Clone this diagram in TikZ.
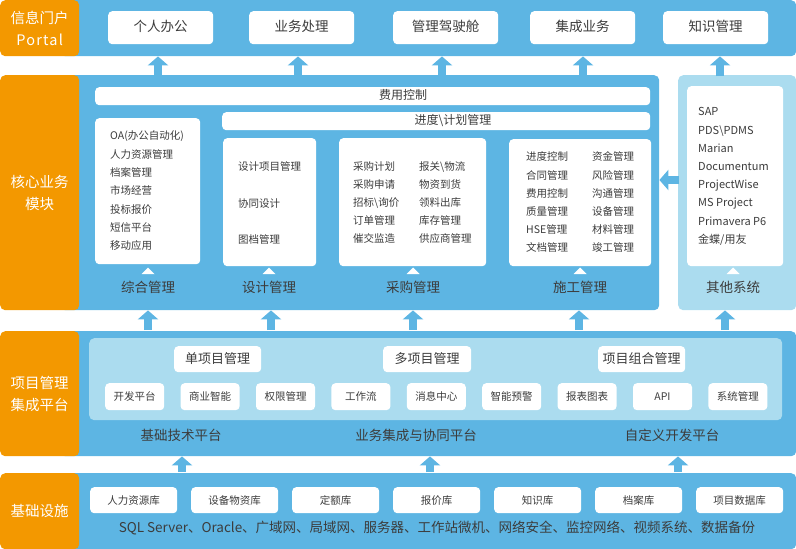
\documentclass[tikz,border=0pt]{standalone}
\usepackage{fontspec}
\setmainfont{Noto Sans CJK SC}
\usetikzlibrary{arrows.meta}
\definecolor{bandblue}{HTML}{5DB5E3}
\definecolor{lightblue}{HTML}{ABDCEF}
\definecolor{orng}{HTML}{F39800}
\definecolor{txt}{HTML}{3C3C3C}
\tikzset{
  band/.style={fill=bandblue, rounded corners=5pt, inner sep=0pt, anchor=north west},
  lband/.style={fill=lightblue, rounded corners=5pt, inner sep=0pt, anchor=north west},
  obox/.style={fill=orng, rounded corners=5pt, inner sep=0pt, anchor=north west, text=white, align=center, font=\fontsize{14.5}{22}\selectfont},
  wbox/.style={fill=white, rounded corners=4pt, inner sep=0pt, anchor=north west},
  fixh/.style={text height=0.88em, text depth=0.12em},
  ptext/.style={text=txt, font=\fontsize{13.5}{16}\selectfont, inner sep=0pt, fixh},
  item/.style={text=txt, font=\fontsize{10.5}{12}\selectfont, inner sep=0pt, anchor=west, fixh},
  oitem/.style={text=txt, font=\fontsize{11}{13}\selectfont, inner sep=0pt, anchor=west, fixh},
  btext/.style={text=txt, font=\fontsize{12}{14}\selectfont, inner sep=0pt, fixh},
  stext/.style={text=txt, font=\fontsize{10.5}{12}\selectfont, inner sep=0pt, fixh},
  lab/.style={text=txt, font=\fontsize{13.5}{16}\selectfont, inner sep=0pt, fixh},
  barrow/.style={draw=bandblue, line width=8pt, -{Triangle[width=20pt,length=9pt]}},
  wtri/.style={fill=white}
}
\begin{document}
\begin{tikzpicture}[x=1pt,y=-1pt]
\useasboundingbox (0,0) rectangle (796,549);

% ---------- bands ----------
\node[band, minimum width=736pt, minimum height=56pt] (portal) at (60,0) {};
\node[band, minimum width=599pt, minimum height=235pt] (core) at (60,75) {};
\node[lband, minimum width=118pt, minimum height=235pt] (other) at (678,75) {};
\node[band, minimum width=736pt, minimum height=125pt] (plat) at (60,331) {};
\node[band, minimum width=736pt, minimum height=76pt] (base) at (60,473) {};

% ---------- orange labels ----------
\node[obox, minimum width=79pt, minimum height=56pt] (L1) at (0,0) {信息门户\\\addfontfeature{LetterSpace=8}Portal};
\node[obox, minimum width=79pt, minimum height=235pt] (L2) at (0,75) {核心业务\\模块};
\node[obox, minimum width=79pt, minimum height=125pt] (L3) at (0,331) {项目管理\\集成平台};
\node[obox, minimum width=79pt, minimum height=76pt] (L4) at (0,473) {基础设施};

% ---------- portal boxes ----------
\node[wbox, minimum width=105pt, minimum height=33pt] (p1) at (108,11) {};
\node[wbox, minimum width=105pt, minimum height=33pt] (p2) at (249,11) {};
\node[wbox, minimum width=105pt, minimum height=33pt] (p3) at (393,11) {};
\node[wbox, minimum width=105pt, minimum height=33pt] (p4) at (530,11) {};
\node[wbox, minimum width=105pt, minimum height=33pt] (p5) at (663,11) {};
\node[ptext] (t1) at (p1.center) {个人办公};
\node[ptext] (t2) at (p2.center) {业务处理};
\node[ptext] (t3) at (p3.center) {管理驾驶舱};
\node[ptext] (t4) at (p4.center) {集成业务};
\node[ptext] (t5) at (p5.center) {知识管理};

% ---------- arrows core -> portal ----------
\coordinate (a1) at (158,0);
\coordinate (a2) at (298,0);
\coordinate (a3) at (442,0);
\coordinate (a4) at (583,0);
\coordinate (a5) at (720,0);
\draw[barrow] ([yshift=-1pt]core.north -| a1) -- (portal.south -| a1);
\draw[barrow] ([yshift=-1pt]core.north -| a2) -- (portal.south -| a2);
\draw[barrow] ([yshift=-1pt]core.north -| a3) -- (portal.south -| a3);
\draw[barrow] ([yshift=-1pt]core.north -| a4) -- (portal.south -| a4);
\draw[barrow] ([yshift=-1pt]other.north -| a5) -- (portal.south -| a5);

% ---------- core ----------
\node[wbox, minimum width=555pt, minimum height=18pt] (fee) at (95,87) {};
\node[btext] (feet) at (403,96) {费用控制};
\node[wbox, minimum width=428pt, minimum height=18pt] (prog) at (222,112) {};
\node[btext] (progt) at (453,121) {进度\textbackslash 计划管理};

\node[wbox, minimum width=105pt, minimum height=146pt] (zh) at (95,118) {};
\node[wbox, minimum width=93pt, minimum height=128pt] (sj) at (223,138) {};
\node[wbox, minimum width=147pt, minimum height=128pt] (cg) at (339,138) {};
\node[wbox, minimum width=142pt, minimum height=127pt] (sg) at (509,139) {};
\node[wbox, minimum width=96pt, minimum height=180pt] (qt) at (687,86) {};

% zh items
\foreach \t [count=\i from 0] in {OA(办公自动化),人力资源管理,档案管理,市场经营,投标报价,短信平台,移动应用}
  \node[item] (zh\i) at (110,136+18.3*\i) {\t};
% sj items
\node[item] (sj0) at (238,167) {设计项目管理};
\node[item] (sj1) at (238,204) {协同设计};
\node[item] (sj2) at (238,240) {图档管理};
% cg items
\foreach \t [count=\i from 0] in {采购计划,采购申请,招标\textbackslash 询价,订单管理,催交监造}
  \node[item] (cga\i) at (353,167+18*\i) {\t};
\foreach \t [count=\i from 0] in {报关\textbackslash 物流,物资到货,领料出库,库存管理,供应商管理}
  \node[item] (cgb\i) at (419,167+18*\i) {\t};
% sg items
\foreach \t [count=\i from 0] in {进度控制,合同管理,费用控制,质量管理,HSE管理,文档管理}
  \node[item] (sga\i) at (526,157+18.2*\i) {\t};
\foreach \t [count=\i from 0] in {资金管理,风险管理,沟通管理,设备管理,材料管理,竣工管理}
  \node[item] (sgb\i) at (592,157+18.2*\i) {\t};
% other systems
\foreach \t [count=\i from 0] in {SAP,PDS\textbackslash PDMS,Marian,Documentum,ProjectWise,MS Project,Primavera P6,金蝶/用友}
  \node[oitem] (qt\i) at (698,112+18.2*\i) {\t};

% triangles and labels
\foreach \x/\n/\t in {148/l1/综合管理,269/l2/设计管理,413/l3/采购管理,580/l4/施工管理,733/l5/其他系统}{
  \fill[wtri] (\x-6.5,274) -- (\x+6.5,274) -- (\x,267.5) -- cycle;
  \node[lab] (\n) at (\x,289) {\t};
}

% left arrow other -> core
\coordinate (ay) at (0,180);
\draw[barrow] ([xshift=1pt]other.west |- ay) -- (core.east |- ay);

% ---------- arrows platform -> core ----------
\coordinate (b1) at (148,0);
\coordinate (b2) at (271,0);
\coordinate (b3) at (413,0);
\coordinate (b4) at (579,0);
\coordinate (b5) at (725,0);
\draw[barrow] ([yshift=1pt]plat.north -| b1) -- (core.south -| b1);
\draw[barrow] ([yshift=1pt]plat.north -| b2) -- (core.south -| b2);
\draw[barrow] ([yshift=1pt]plat.north -| b3) -- (core.south -| b3);
\draw[barrow] ([yshift=1pt]plat.north -| b4) -- (core.south -| b4);
\draw[barrow] ([yshift=1pt]plat.north -| b5) -- (other.south -| b5);

% ---------- platform ----------
\node[lband, minimum width=693pt, minimum height=82pt] (inner) at (89,338) {};
\node[wbox, minimum width=87pt, minimum height=26pt] (m1) at (174,346) {};
\node[wbox, minimum width=88pt, minimum height=26pt] (m2) at (383,346) {};
\node[wbox, minimum width=87pt, minimum height=26pt] (m3) at (598,346) {};
\node[lab, font=\fontsize{13}{15}\selectfont] (m1t) at (m1.center) {单项目管理};
\node[lab, font=\fontsize{13}{15}\selectfont] (m2t) at (m2.center) {多项目管理};
\node[lab, font=\fontsize{13}{15}\selectfont] (m3t) at (m3.center) {项目组合管理};
\foreach \t [count=\i from 0] in {开发平台,商业智能,权限管理,工作流,消息中心,智能预警,报表图表,API,系统管理}{
  \node[wbox, minimum width=59pt, minimum height=27pt] (s\i) at (105+75.4*\i,383) {};
  \node[stext] (s\i t) at (s\i.center) {\t};
}
\node[lab] (pl1) at (181,437) {基础技术平台};
\node[lab] (pl2) at (416,437) {业务集成与协同平台};
\node[lab] (pl3) at (672,437) {自定义开发平台};

% ---------- arrows base -> platform ----------
\coordinate (c1) at (182,0);
\coordinate (c2) at (430,0);
\coordinate (c3) at (678,0);
\draw[barrow] ([yshift=1pt]base.north -| c1) -- (plat.south -| c1);
\draw[barrow] ([yshift=1pt]base.north -| c2) -- (plat.south -| c2);
\draw[barrow] ([yshift=1pt]base.north -| c3) -- (plat.south -| c3);

% ---------- base ----------
\foreach \t [count=\i from 0] in {人力资源库,设备物资库,定额库,报价库,知识库,档案库,项目数据库}{
  \node[wbox, minimum width=87pt, minimum height=26pt] (d\i) at (90+101*\i,487) {};
  \node[stext] (d\i t) at (d\i.center) {\t};
}
\node[lab] (sql) at (437,529) {SQL Server、Oracle、广域网、局域网、服务器、工作站微机、网络安全、监控网络、视频系统、数据备份};

\end{tikzpicture}
\end{document}
